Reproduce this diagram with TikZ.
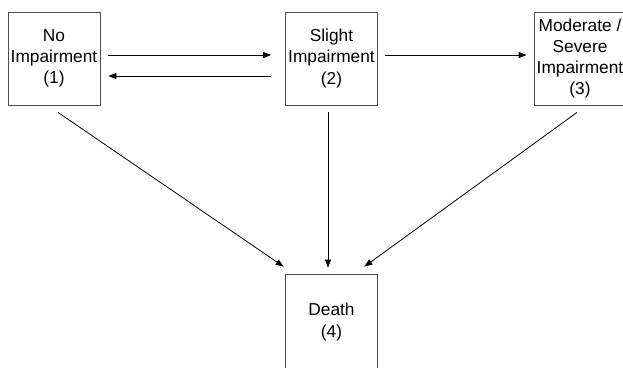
\documentclass[tikz,border=0pt]{standalone}
\usepackage{fontspec}
\setmainfont{Liberation Sans}
\usetikzlibrary{arrows.meta}
\begin{document}
\begin{tikzpicture}[x=1bp,y=-1bp,
  state/.style={draw=black!70,line width=0.8bp,minimum width=92bp,minimum height=93bp,inner sep=0pt,align=center,font=\fontsize{17.3bp}{21.2bp}\selectfont},
  arr/.style={draw=black,line width=0.8bp,-{Triangle[length=8bp,width=6bp]}}]
\useasboundingbox (0,0) rectangle (623,367);
\clip (0,0) rectangle (623,367);
\node[state] (n1) at (54,58.5) {No\\Impairment\\(1)};
\node[state] (n2) at (331.5,58.5) {Slight\\Impairment\\(2)};
\node[state] (n3) at (580,58.5) {Moderate /\\Severe\\Impairment\\(3)};
\node[state,draw=none,minimum width=91bp,minimum height=94bp] (n4) at (331.5,322) {Death\\(4)};
\draw[draw=black!70,line width=0.8bp] (n4.south west) -- (n4.north west) -- (n4.north east) -- (n4.south east);
\draw[arr] ([xshift=8bp,yshift=3.5bp]n1.east) -- ([xshift=-14bp,yshift=3.5bp]n2.west);
\draw[arr] ([xshift=-14bp,yshift=-17.5bp]n2.west) -- ([xshift=8bp,yshift=-17.5bp]n1.east);
\draw[arr] ([xshift=7bp,yshift=3.5bp]n2.east) -- ([xshift=-7bp,yshift=3.5bp]n3.west);
\draw[arr] ([xshift=4bp,yshift=-7bp]n1.south) -- ([xshift=-2bp,yshift=8bp]n4.north west);
\draw[arr] ([xshift=-3.5bp,yshift=-7bp]n2.south) -- ([xshift=-3.5bp,yshift=7bp]n4.north);
\draw[arr] ([xshift=-3bp,yshift=-7bp]n3.south) -- ([xshift=-13bp,yshift=8bp]n4.north east);
\end{tikzpicture}
\end{document}
